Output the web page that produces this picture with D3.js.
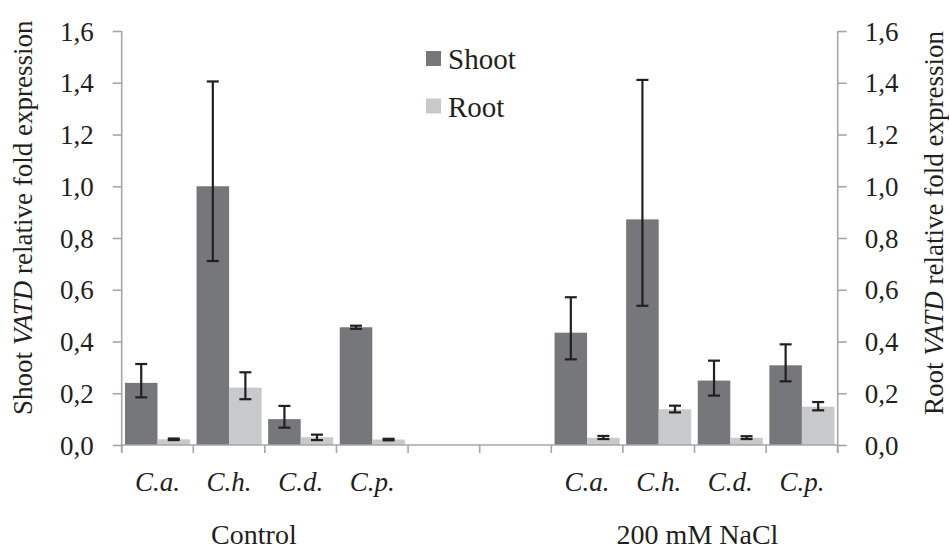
<!DOCTYPE html>
<html>
<head>
<meta charset="utf-8">
<script src="https://cdn.jsdelivr.net/npm/d3@7"></script>
<style>
  html, body { margin: 0; padding: 0; background: #ffffff; }
  svg { display: block; }
  svg text { font-family: "Liberation Serif", "Times New Roman", Times, serif !important; fill: #231f20; }
</style>
</head>
<body>
<svg id="chart" width="949" height="549"></svg>
<script>
// Species (per treatment) and treatments
const species = ["C.a.", "C.h.", "C.d.", "C.p."];
const treatments = ["Control", "200 mM NaCl"];
const series = ["Shoot", "Root"];

// Relative fold expression of VATD: means with upper / lower error-bar ends
const shootControl      = [0.240, 1.000, 0.100, 0.455];
const shootControlUpper = [0.313, 1.405, 0.151, 0.461];
const shootControlLower = [0.184, 0.711, 0.067, 0.449];
const rootControl       = [0.022, 0.222, 0.030, 0.021];
const rootControlUpper  = [0.025, 0.281, 0.040, 0.024];
const rootControlLower  = [0.019, 0.177, 0.019, 0.018];

const shootNaCl      = [0.434, 0.872, 0.249, 0.308];
const shootNaClUpper = [0.571, 1.411, 0.326, 0.389];
const shootNaClLower = [0.331, 0.538, 0.191, 0.246];
const rootNaCl       = [0.028, 0.138, 0.028, 0.148];
const rootNaClUpper  = [0.035, 0.152, 0.034, 0.166];
const rootNaClLower  = [0.023, 0.126, 0.023, 0.134];

const yTicks = [0, 0.2, 0.4, 0.6, 0.8, 1.0, 1.2, 1.4, 1.6];

const colors = { Shoot: "#76777b", Root: "#c8c9cb" };
const axisColor = "#a6a6a6";
const ink = "#231f20";

// Layout
const svg = d3.select("#chart");
const plot = { left: 121.7, right: 837.7, top: 31, bottom: 445 };

// Ten category slots: four species per treatment, two empty slots between them
const slots = [];
species.forEach((s, i) => slots.push({ key: "c" + i, label: s, t: 0, i }));
slots.push({ key: "gap0", label: "", t: -1 });
slots.push({ key: "gap1", label: "", t: -1 });
species.forEach((s, i) => slots.push({ key: "n" + i, label: s, t: 1, i }));

const x = d3.scaleBand().domain(slots.map(d => d.key)).range([plot.left, plot.right]).padding(0);
const xs = d3.scaleBand().domain(series).range([0, x.bandwidth()]).paddingInner(0).paddingOuter(0.1);
const y = d3.scaleLinear().domain([0, 1.6]).range([plot.bottom, plot.top]);

// Bar records
const table = [
  { t: 0, s: "Shoot", v: shootControl, hi: shootControlUpper, lo: shootControlLower },
  { t: 0, s: "Root",  v: rootControl,  hi: rootControlUpper,  lo: rootControlLower },
  { t: 1, s: "Shoot", v: shootNaCl,    hi: shootNaClUpper,    lo: shootNaClLower },
  { t: 1, s: "Root",  v: rootNaCl,     hi: rootNaClUpper,     lo: rootNaClLower }
];
const bars = [];
table.forEach(r => species.forEach((sp, i) => {
  bars.push({ key: (r.t === 0 ? "c" : "n") + i, series: r.s, value: r.v[i], hi: r.hi[i], lo: r.lo[i] });
}));

// Bars
svg.append("g").selectAll("rect").data(bars).join("rect")
  .attr("x", d => x(d.key) + xs(d.series))
  .attr("y", d => y(d.value))
  .attr("width", xs.bandwidth())
  .attr("height", d => y(0) - y(d.value))
  .attr("fill", d => colors[d.series]);

// Axes
const gAxes = svg.append("g");
const fmt = d => d3.format(".1f")(d).replace(".", ",");
const gl = gAxes.append("g").attr("transform", `translate(${plot.left},0)`)
  .call(d3.axisLeft(y).tickValues(yTicks).tickSize(9).tickFormat(fmt));
const gr = gAxes.append("g").attr("transform", `translate(${plot.right},0)`)
  .call(d3.axisRight(y).tickValues(yTicks).tickSize(9).tickFormat(fmt));

[gl, gr].forEach(g => {
  g.attr("font-family", null).attr("font-size", null);
  g.select(".domain").remove();
  g.selectAll(".tick line").attr("stroke", axisColor).attr("stroke-width", 1.6);
  g.selectAll(".tick text").style("font-size", "27px").attr("fill", ink).attr("dy", "0.34em");
});
gl.selectAll(".tick text").attr("x", -28);
gr.selectAll(".tick text").attr("x", 27);

// vertical axis lines (run down to the category tick length)
const tickLen = 8;
[plot.left, plot.right].forEach(px => {
  gAxes.append("line").attr("x1", px).attr("x2", px)
    .attr("y1", plot.top).attr("y2", plot.bottom + tickLen)
    .attr("stroke", axisColor).attr("stroke-width", 1.6);
});
// baseline
gAxes.append("line").attr("x1", plot.left).attr("x2", plot.right)
  .attr("y1", y(0)).attr("y2", y(0))
  .attr("stroke", axisColor).attr("stroke-width", 1.6);
// category separators
const bounds = slots.map(d => x(d.key)).concat([plot.right]);
gAxes.append("g").selectAll("line").data(bounds).join("line")
  .attr("x1", d => d).attr("x2", d => d)
  .attr("y1", y(0)).attr("y2", y(0) + tickLen)
  .attr("stroke", axisColor).attr("stroke-width", 1.6);

// Error bars
const capW = 12;
const gErr = svg.append("g").attr("stroke", ink).attr("stroke-width", 2.2);
bars.forEach(d => {
  const cx = x(d.key) + xs(d.series) + xs.bandwidth() / 2;
  gErr.append("line").attr("x1", cx).attr("x2", cx).attr("y1", y(d.hi)).attr("y2", y(d.lo));
  gErr.append("line").attr("x1", cx - capW / 2).attr("x2", cx + capW / 2).attr("y1", y(d.hi)).attr("y2", y(d.hi));
  gErr.append("line").attr("x1", cx - capW / 2).attr("x2", cx + capW / 2).attr("y1", y(d.lo)).attr("y2", y(d.lo));
});

// Species labels
svg.append("g").selectAll("text").data(slots.filter(d => d.label)).join("text")
  .attr("x", d => x(d.key) + x.bandwidth() / 2)
  .attr("y", 491)
  .attr("text-anchor", "middle")
  .style("font-size", "27px")
  .style("font-style", "italic")
  .text(d => d.label);

// Treatment labels
const groupShift = [-11, 3];
svg.append("g").selectAll("text").data(treatments).join("text")
  .attr("x", (d, t) => {
    const keys = slots.filter(s => s.t === t).map(s => s.key);
    return (x(keys[0]) + x(keys[keys.length - 1]) + x.bandwidth()) / 2 + groupShift[t];
  })
  .attr("y", 544)
  .attr("text-anchor", "middle")
  .style("font-size", "28px")
  .text(d => d);

// Axis titles
function axisTitle(xPos, prefix) {
  const t = svg.append("text")
    .attr("transform", `translate(${xPos},415) rotate(-90)`)
    .attr("text-anchor", "start")
    .style("font-size", "27px");
  t.append("tspan").text(prefix + "\u00a0");
  t.append("tspan").style("font-style", "italic").text("VATD");
  t.append("tspan").text("\u00a0relative fold expression");
}
axisTitle(32, "Shoot");
axisTitle(943, "Root");

// Legend
const legend = svg.append("g").attr("transform", "translate(426,51)");
series.forEach((s, i) => {
  const g = legend.append("g").attr("transform", `translate(0,${i * 47.5})`);
  g.append("rect").attr("width", 15).attr("height", 15).attr("fill", colors[s]);
  g.append("text").attr("x", 22).attr("y", 18).style("font-size", "29px").text(s);
});
</script>
</body>
</html>
